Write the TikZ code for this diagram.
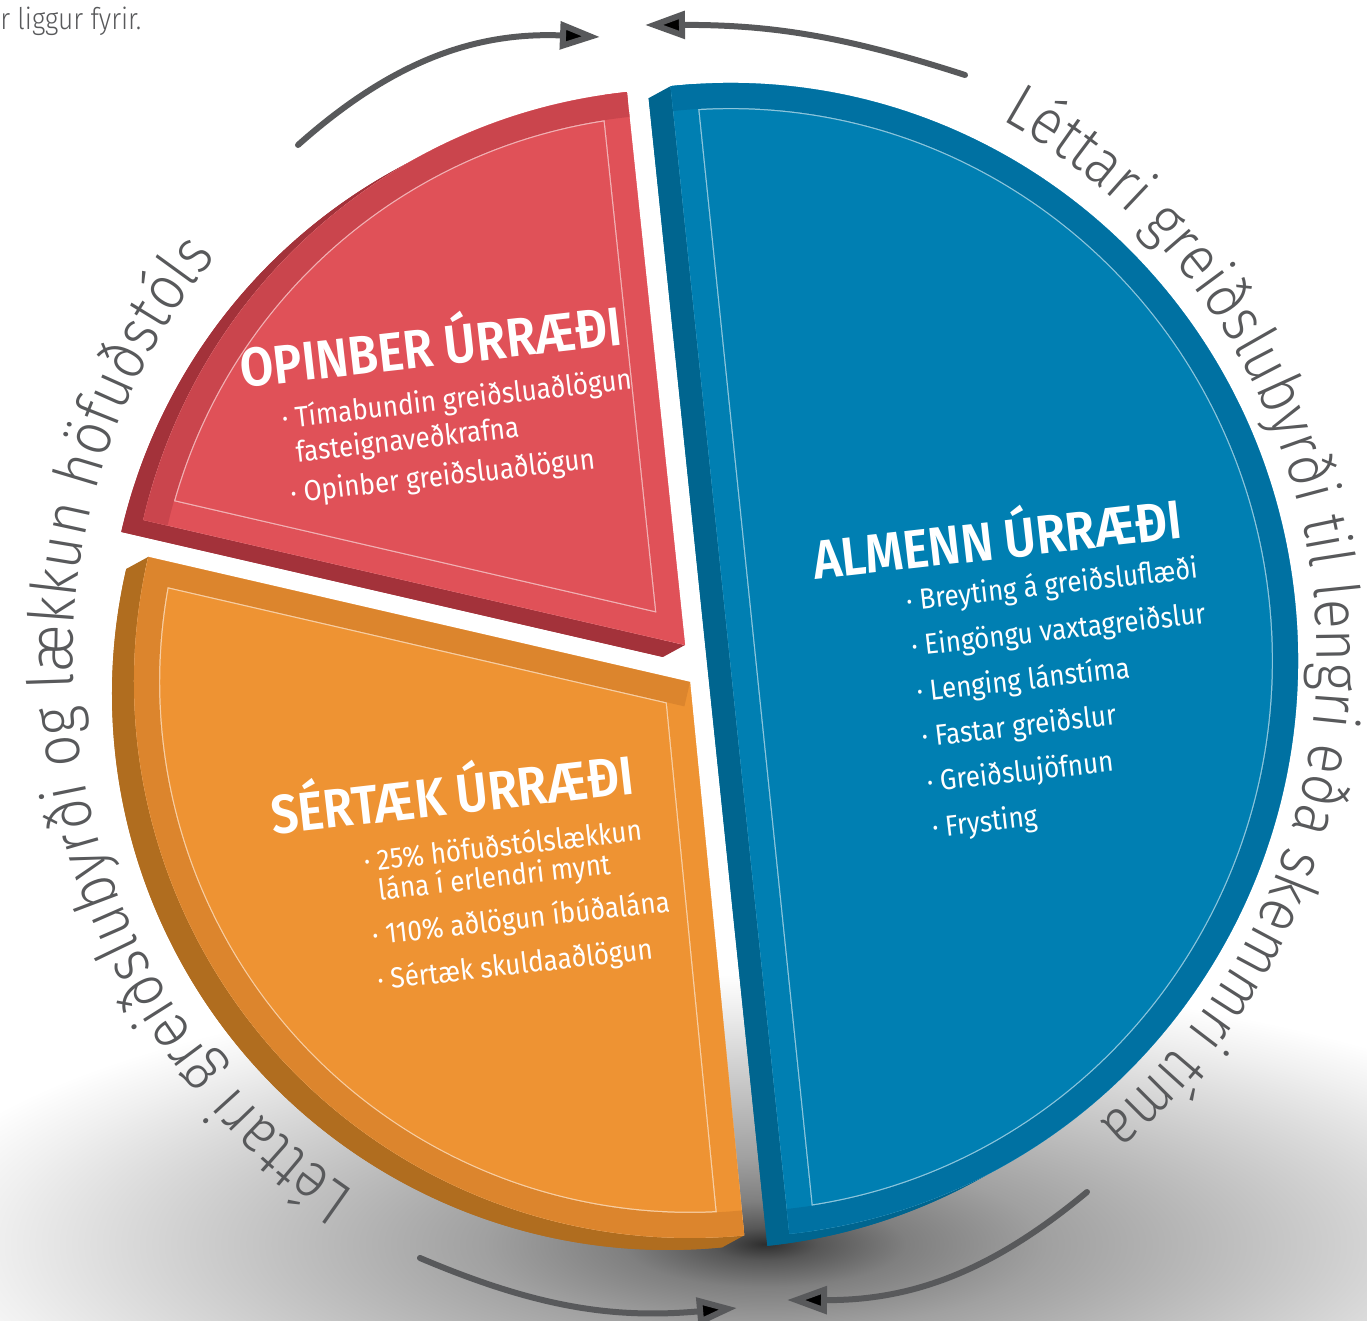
\documentclass[tikz,border=0pt]{standalone}
\usepackage{fontspec}
\setmainfont{Fira Sans}
\newfontfamily\titlefont{Fira Sans SemiBold}[FakeStretch=0.89]
\newfontfamily\piefont{Fira Sans}[FakeStretch=0.9]
\newfontfamily\ringfont{Fira Sans Light}[FakeStretch=0.88]
\usetikzlibrary{arrows.meta,calc,decorations.text}

\definecolor{bluetop}{HTML}{007FB2}
\definecolor{bluerim}{HTML}{0071A2}
\definecolor{blueside}{HTML}{00658F}
\definecolor{redtop}{HTML}{E05158}
\definecolor{redrim}{HTML}{CA454D}
\definecolor{redside}{HTML}{A3323A}
\definecolor{orangetop}{HTML}{EE9333}
\definecolor{orangerim}{HTML}{DC852D}
\definecolor{orangeside}{HTML}{B06D1F}
\definecolor{arrowgray}{HTML}{58595B}

% soft shadow under the pie
\pgfdeclareradialshading{pieshadow}{\pgfpoint{0bp}{0bp}}{color(0bp)=(black!82); color(1.5bp)=(black!66); color(4bp)=(black!50); color(8bp)=(black!37); color(13bp)=(black!26); color(18bp)=(black!15); color(22bp)=(black!6); color(25bp)=(white); color(50bp)=(white)}

% slice outlines, in pixel units
\newcommand{\bluepart}{(730,660) -- ++(-84:568 and 577) arc[start angle=-84, end angle=96, x radius=568, y radius=577] -- cycle}
\newcommand{\redpart}{(685,675) -- ++(96:556) arc[start angle=96, end angle=167, radius=556] -- cycle}
\newcommand{\orangepart}{(690,638) -- ++(167:556) arc[start angle=167, end angle=275.6, radius=556] -- cycle}

\begin{document}
\begin{tikzpicture}[x=0.02cm, y=0.02cm,
    ptitle/.style={anchor=base west, inner sep=0pt, text=white, font=\titlefont\fontsize{31}{36}\selectfont},
    pitem/.style={anchor=base west, inner sep=0pt, text=white, font=\piefont\fontsize{16.5}{20}\selectfont},
    arrowline/.style={draw=arrowgray, line width=0.12cm, line cap=round, -{Triangle[length=0.8cm, width=0.54cm]}},
    ringtext/.style={decorate, decoration={text along path, text align={fit to path}, text color=arrowgray}}]
    \useasboundingbox (0,0) rectangle (1367,1320);

    % Shadow under the pie
    \begin{scope}
        \clip (0,0) rectangle (1367,1320);
        \shade[shading=pieshadow] (765,76) ellipse[x radius=880, y radius=270];
    \end{scope}

    % Blue slice
    \fill[blueside, shift={(-22,-12)}] \bluepart;
    \fill[blueside] ($(730,660)+(96:568 and 577)$) -- ($(730,660)+(-84:568 and 577)$) -- ++(-22,-12) -- ($(708,648)+(96:568 and 577)$) -- cycle;
    \fill[blueside] ($(730,660)+(-84:568 and 577)$) arc[start angle=-84, end angle=-61, x radius=568, y radius=577] -- ++(-22,-12) arc[start angle=-61, end angle=-84, x radius=568, y radius=577] -- cycle;
    \fill[bluetop] \bluepart;
    \begin{scope}
        \clip \bluepart;
        \draw[white!55!bluetop, line width=1.05cm] \bluepart;
        \draw[bluetop, line width=1cm] ($(730,660)+(96:568 and 577)$) -- ($(730,660)+(-84:568 and 577)$);
        \draw[bluerim, line width=1cm] ($(730,660)+(-84:568 and 577)$) arc[start angle=-84, end angle=96, x radius=568, y radius=577];
    \end{scope}

    % Red slice
    \fill[redside, shift={(-22,-12)}] \redpart;
    \fill[redside] (685,675) -- ($(685,675)+(167:556)$) -- ++(-22,-12) -- (663,663) -- cycle;
    \fill[redside] ($(685,675)+(118.6:556)$) arc[start angle=118.6, end angle=167, radius=556] -- ++(-22,-12) arc[start angle=167, end angle=118.6, radius=556] -- cycle;
    \fill[redtop] \redpart;
    \begin{scope}
        \clip \redpart;
        \draw[white!55!redtop, line width=1.05cm] \redpart;
        \draw[redtop, line width=1cm] ($(685,675)+(96:556)$) -- (685,675) -- ($(685,675)+(167:556)$);
        \draw[redrim, line width=1cm] ($(685,675)+(96:556)$) arc[start angle=96, end angle=167, radius=556];
    \end{scope}

    % Orange slice
    \fill[orangeside, shift={(-22,-12)}] \orangepart;
    \fill[orangeside] ($(690,638)+(167:556)$) arc[start angle=167, end angle=275.6, radius=556] -- ++(-22,-12) arc[start angle=275.6, end angle=167, radius=556] -- cycle;
    \fill[orangetop] \orangepart;
    \begin{scope}
        \clip \orangepart;
        \draw[white!55!orangetop, line width=1.05cm] \orangepart;
        \draw[orangetop, line width=1cm] (690,638) -- ($(690,638)+(275.6:556)$);
        \draw[orangerim, line width=1cm] ($(690,638)+(275.6:556)$) arc[start angle=275.6, end angle=167, radius=556] -- (690,638);
    \end{scope}

    % Slice labels
    \begin{scope}[shift={(242,932)}, rotate=6.5, transform shape]
        \node[ptitle] (optitle) at (0,0) {OPINBER ÚRRÆÐI};
        \node[pitem] (opone) at (36,-45) {· Tímabundin greiðsluaðlögun};
        \node[pitem] (oponeb) at (46,-80) {fasteignaveðkrafna};
        \node[pitem] (optwo) at (36,-120) {· Opinber greiðsluaðlögun};
    \end{scope}
    \begin{scope}[shift={(815,740)}, rotate=6.5, transform shape]
        \node[ptitle] (altitle) at (0,0) {ALMENN ÚRRÆÐI};
        \node[pitem] (alone) at (88,-41.5) {· Breyting á greiðsluflæði};
        \node[pitem] (altwo) at (88,-87) {· Eingöngu vaxtagreiðslur};
        \node[pitem] (althree) at (88,-132.6) {· Lenging lánstíma};
        \node[pitem] (alfour) at (88,-178) {· Fastar greiðslur};
        \node[pitem] (alfive) at (88,-223.7) {· Greiðslujöfnun};
        \node[pitem] (alsix) at (88,-269.3) {· Frysting};
    \end{scope}
    \begin{scope}[shift={(273,485)}, rotate=6.5, transform shape]
        \node[ptitle] (sertitle) at (0,0) {SÉRTÆK ÚRRÆÐI};
        \node[pitem] (serone) at (87,-47) {· 25\% höfuðstólslækkun};
        \node[pitem] (seroneb) at (98,-77) {lána í erlendri mynt};
        \node[pitem] (sertwo) at (87,-121) {· 110\% aðlögun íbúðalána};
        \node[pitem] (serthree) at (87,-166) {· Sértæk skuldaaðlögun};
    \end{scope}

    % Ring texts
    \path[ringtext, decoration={text={|\ringfont\fontsize{36}{42}\selectfont|Léttari greiðslubyrði og lækkun höfuðstóls}}]
        ($(715,660)+(236:642)$) arc[start angle=236, end angle=141, radius=642];
    \path[ringtext, decoration={text={|\ringfont\fontsize{36}{42}\selectfont|Léttari greiðslubyrði til lengri eða skemmri tíma}}]
        ($(705,665)+(61:612)$) arc[start angle=61, end angle=-50, radius=612];

    % Arrows round the pie
    \coordinate (tlstart) at (298,1175);
    \coordinate (tlend) at (600,1283);
    \coordinate (trstart) at (965,1245);
    \coordinate (trend) at (645,1295);
    \coordinate (blstart) at (420,62);
    \coordinate (blend) at (737,12);
    \coordinate (brstart) at (1087,128);
    \coordinate (brend) at (787,20);
    \draw[arrowline] (tlstart) to[bend left=22] (tlend);
    \draw[arrowline] (trstart) to[bend right=9] (trend);
    \draw[arrowline] (blstart) to[bend right=14] (blend);
    \draw[arrowline] (brstart) to[bend left=20] (brend);

    % Cut-off text at the corner
    \node[anchor=base west, inner sep=0pt, text=arrowgray, font=\ringfont\fontsize{17}{19}\selectfont] (cuttext) at (0,1290) {r liggur fyrir.};
\end{tikzpicture}
\end{document}
